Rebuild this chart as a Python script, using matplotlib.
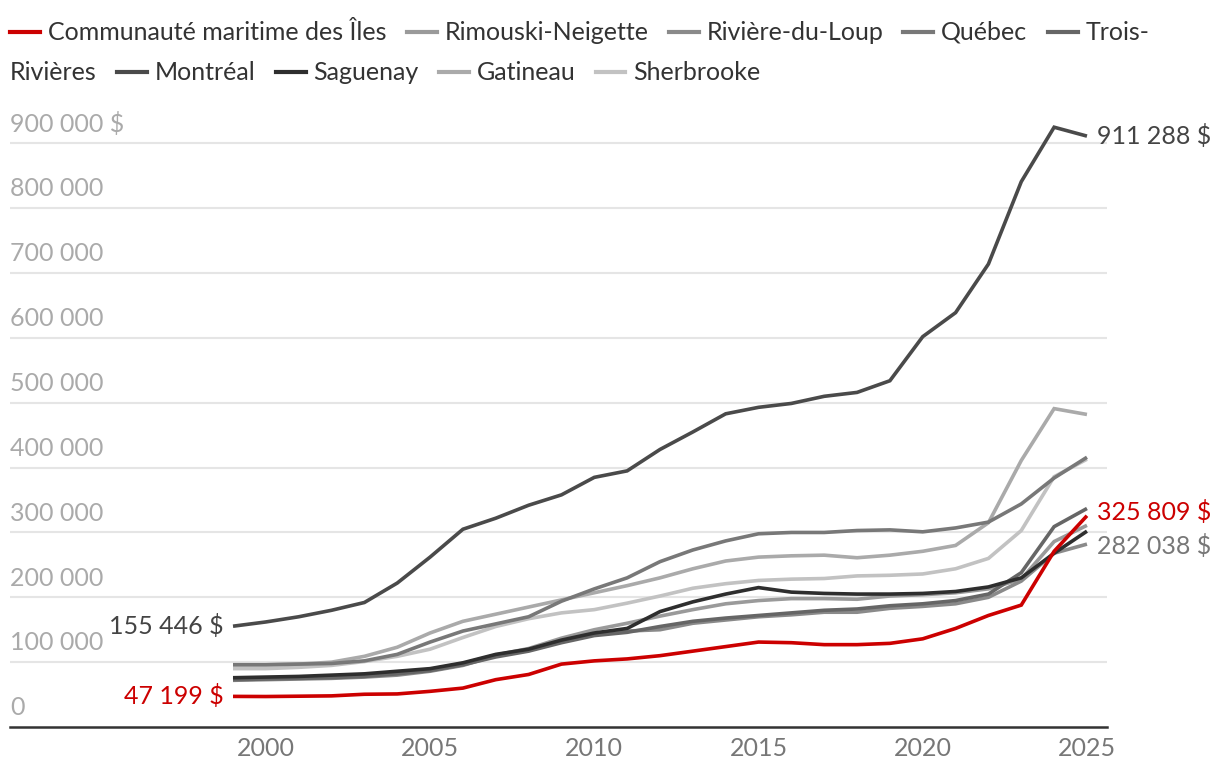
import numpy as np
import matplotlib.pyplot as plt
from matplotlib.lines import Line2D

plt.rcParams['font.family'] = ['Lato', 'DejaVu Sans']

years = np.arange(1999, 2026)

iles = [47199, 47000, 47500, 48000, 50500, 51000, 55000, 60000, 73000, 81000,
        97000, 102000, 105000, 110000, 117000, 124000, 131000, 130000, 127000,
        127000, 129000, 136000, 152000, 172000, 188000, 271000, 325809]
rimouski = [74000, 75000, 76000, 78000, 80000, 84000, 89000, 98000, 111000, 121000,
            137000, 150000, 160000, 171000, 181000, 190000, 195000, 198000, 198000,
            197000, 202000, 204000, 207000, 213000, 228000, 286000, 311000]
riviere_du_loup = [72000, 73000, 74000, 75000, 77000, 80000, 86000, 95000, 110000, 118000,
                   132000, 143000, 148000, 150000, 160000, 165000, 170000, 173000, 177000,
                   177000, 183000, 186000, 190000, 200000, 225000, 268000, 282038]
quebec = [96000, 96000, 97000, 98000, 102000, 112000, 131000, 148000, 159000, 170000,
          194000, 213000, 230000, 255000, 273000, 287000, 298000, 300000, 300000,
          303000, 304000, 301000, 307000, 316000, 344000, 384000, 416000]
trois_rivieres = [73000, 74000, 75000, 76000, 78000, 82000, 87000, 96000, 108000, 117000,
                  130000, 141000, 146000, 155000, 163000, 168000, 172000, 176000, 180000,
                  182000, 187000, 190000, 195000, 205000, 238000, 309000, 337000]
montreal = [155446, 162000, 170000, 180000, 192000, 222000, 262000, 305000, 322000, 342000,
            358000, 385000, 395000, 428000, 455000, 483000, 493000, 499000, 510000,
            516000, 534000, 602000, 639000, 714000, 841000, 925000, 911288]
saguenay = [76000, 77000, 78000, 80000, 82000, 86000, 90000, 99000, 112000, 120000,
            134000, 145000, 152000, 178000, 193000, 205000, 215000, 208000, 206000,
            205000, 205000, 206000, 209000, 216000, 230000, 268000, 302000]
gatineau = [96000, 96000, 97000, 100000, 109000, 123000, 145000, 163000, 174000, 185000,
            196000, 207000, 218000, 230000, 244000, 256000, 262000, 264000, 265000,
            261000, 265000, 271000, 280000, 315000, 411000, 491000, 482000]
sherbrooke = [90000, 90000, 92000, 95000, 101000, 109000, 120000, 138000, 155000, 167000,
              176000, 181000, 191000, 202000, 214000, 221000, 226000, 228000, 229000,
              233000, 234000, 236000, 244000, 260000, 303000, 386000, 413000]

names = ["Communauté maritime des Îles", "Rimouski-Neigette", "Rivière-du-Loup",
         "Québec", "Trois-Rivières", "Montréal", "Saguenay", "Gatineau", "Sherbrooke"]
series = [iles, rimouski, riviere_du_loup, quebec, trois_rivieres, montreal,
          saguenay, gatineau, sherbrooke]
colors = ['#cc0000', '#9a9a9a', '#8a8a8a', '#787878', '#666666', '#4a4a4a',
          '#2e2e2e', '#aaaaaa', '#c2c2c2']
yticks = np.arange(0, 1000000, 100000)

FS = 18
W, H = 1220, 778
fig = plt.figure(figsize=(W / 100, H / 100), dpi=100)
ax = fig.add_axes([10 / W, 1 - 727 / H, 1097 / W, 616 / H])

order = [1, 2, 4, 6, 8, 7, 3, 5, 0]
for i in order:
    ax.plot(years, series[i], color=colors[i], lw=2.6, zorder=3 + (i == 0) + (i == 5),
            solid_capstyle='butt', solid_joinstyle='miter')

ax.set_xlim(1992.21, 2025.61)
ax.set_ylim(0, 950000)
for v in yticks[1:]:
    ax.axhline(v, color='#e5e5e5', lw=1.5, zorder=1)
for v in yticks:
    lab = f"{v:,}".replace(",", " ")
    if v == yticks[-1]:
        lab += " $"
    ax.text(0.0, v + 12000, lab, transform=ax.get_yaxis_transform(), fontsize=FS,
            color='#aaaaaa', ha='left', va='bottom')

ax.set_xticks([2000, 2005, 2010, 2015, 2020, 2025])
ax.tick_params(axis='x', length=0, labelsize=FS, labelcolor='#777777', pad=7)
ax.set_yticks([])
for s in ['top', 'right', 'left']:
    ax.spines[s].set_visible(False)
ax.spines['bottom'].set_color('#333333')
ax.spines['bottom'].set_linewidth(1.8)

def lab(v):
    return f"{v:,}".replace(",", " ") + " $"

ax.annotate(lab(montreal[0]), (years[0], montreal[0]), xytext=(-7, 0), textcoords='offset points',
            ha='right', va='center', fontsize=FS, color='#444444')
ax.annotate(lab(iles[0]), (years[0], iles[0]), xytext=(-7, 0), textcoords='offset points',
            ha='right', va='center', fontsize=FS, color='#cc0000')
ax.annotate(lab(montreal[-1]), (years[-1], montreal[-1]), xytext=(7, 0), textcoords='offset points',
            ha='left', va='center', fontsize=FS, color='#444444')
ax.annotate(lab(iles[-1]), (years[-1], iles[-1]), xytext=(7, 3), textcoords='offset points',
            ha='left', va='center', fontsize=FS, color='#cc0000')
ax.annotate(lab(riviere_du_loup[-1]), (years[-1], riviere_du_loup[-1]), xytext=(7, -1),
            textcoords='offset points', ha='left', va='center', fontsize=FS, color='#777777')

# legend laid out like a wrapped html legend
fig.canvas.draw()
r = fig.canvas.get_renderer()
x, row = 10, 0
rows_y = [32, 72]
max_x = 1175

def put_text(s, x, row):
    t = fig.text(x / W, 1 - rows_y[row] / H, s, fontsize=FS, color='#333333',
                 ha='left', va='center')
    return t, t.get_window_extent(r).width

for name, c in zip(names, colors):
    if x > 10 and x + 38 + 40 > max_x:
        x, row = 10, row + 1
    fig.add_artist(Line2D([x / W, (x + 30) / W], [1 - rows_y[row] / H] * 2,
                          transform=fig.transFigure, color=c, lw=3))
    x += 38
    t, w = put_text(name, x, row)
    if x + w > max_x and '-' in name:
        first, rest = name.split('-', 1)
        t.set_text(first + '-')
        x, row = 10, row + 1
        t, w = put_text(rest, x, row)
    x += w + 20

fig.savefig('out.png', dpi=100)
